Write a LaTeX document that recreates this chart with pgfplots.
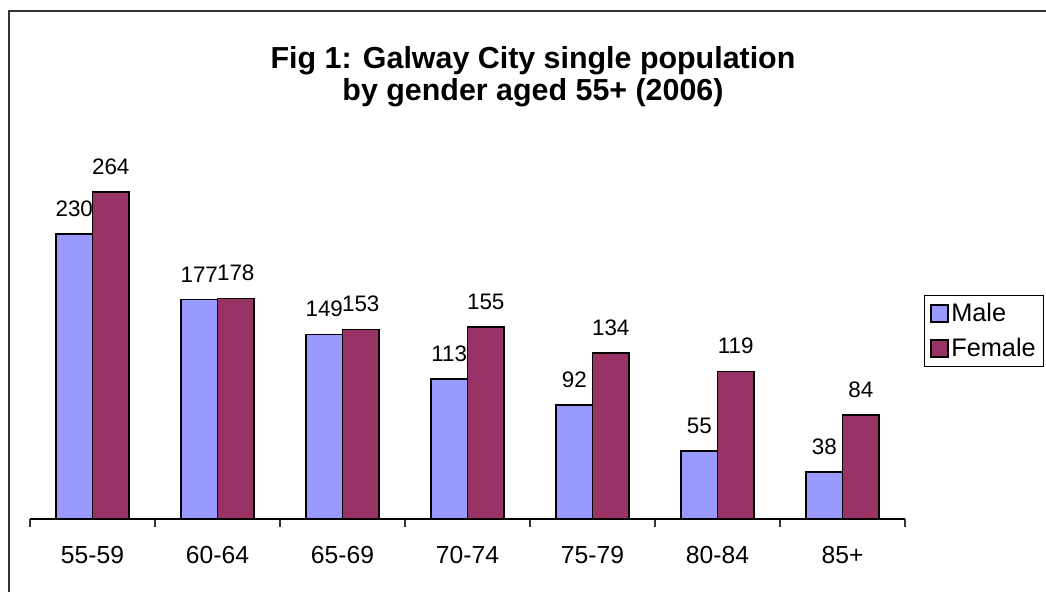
\documentclass[border=0pt]{standalone}
\usepackage{fontspec}
\setmainfont{Liberation Sans}
\usepackage{pgfplots}
\pgfplotsset{compat=1.18}
\definecolor{male}{HTML}{9999FF}
\definecolor{female}{HTML}{993366}
\begin{document}
\begin{tikzpicture}
\useasboundingbox (0,0) rectangle (784.5pt,444pt);
\draw[line width=1.4pt, color=black!80] (6.75pt,0pt) -- (6.75pt,435.75pt) -- (784.5pt,435.75pt);
\node[anchor=base, font=\fontsize{22.8}{26}\selectfont\bfseries, inner sep=0pt] at (399.75pt,392.25pt) {Fig 1: Galway City single population};
\node[anchor=base, font=\fontsize{22.8}{26}\selectfont\bfseries, inner sep=0pt] at (399.75pt,368.25pt) {by gender aged 55+ (2006)};
\begin{axis}[
  at={(22.5pt,54.75pt)}, anchor=south west,
  width=656.25pt, height=278.7pt, scale only axis,
  xmin=-0.5, xmax=6.5, ymin=0, ymax=300,
  axis x line*=bottom, axis y line=none,
  axis line style={black, line width=0.8pt},
  xtick={0,...,6},
  xticklabels={55-59,60-64,65-69,70-74,75-79,80-84,85+},
  major tick length=0pt,
  minor xtick={-0.5,0.5,...,6.5},
  minor tick length=6pt, tick align=outside,
  minor tick style={black!80, line width=0.8pt},
  ytick=\empty,
  /pgf/number format/assume math mode=true,
  xticklabel style={font=\fontsize{18.5}{21}\selectfont, anchor=base, yshift=-33.75pt, inner sep=0pt},
  ybar=0pt, bar width=0.292,
  nodes near coords,
  every node near coord/.append style={font=\fontsize{16.8}{19}\selectfont, inner sep=0pt, yshift=12.5pt, black},
  legend style={at={(1.0217,0.603)}, anchor=north west, draw=black, line width=0.75pt,
    font=\fontsize{19}{22}\selectfont, inner xsep=4pt, inner ysep=4pt, row sep=7pt,
    cells={anchor=west}},
]
\addplot[fill=male, draw=black, line width=1.1pt,
  legend image code/.code={\draw[fill=male,draw=black,line width=1.3pt] (0pt,-6.4pt) rectangle (12.8pt,6.4pt);}]
  coordinates {(0,230) (1,177) (2,149) (3,113) (4,92) (5,55) (6,38)};
\addplot[fill=female, draw=black, line width=1.1pt,
  legend image code/.code={\draw[fill=female,draw=black,line width=1.3pt] (0pt,-6.4pt) rectangle (12.8pt,6.4pt);}]
  coordinates {(0,264) (1,178) (2,153) (3,155) (4,134) (5,119) (6,84)};
\legend{Male,Female}
\end{axis}
\end{tikzpicture}
\end{document}
